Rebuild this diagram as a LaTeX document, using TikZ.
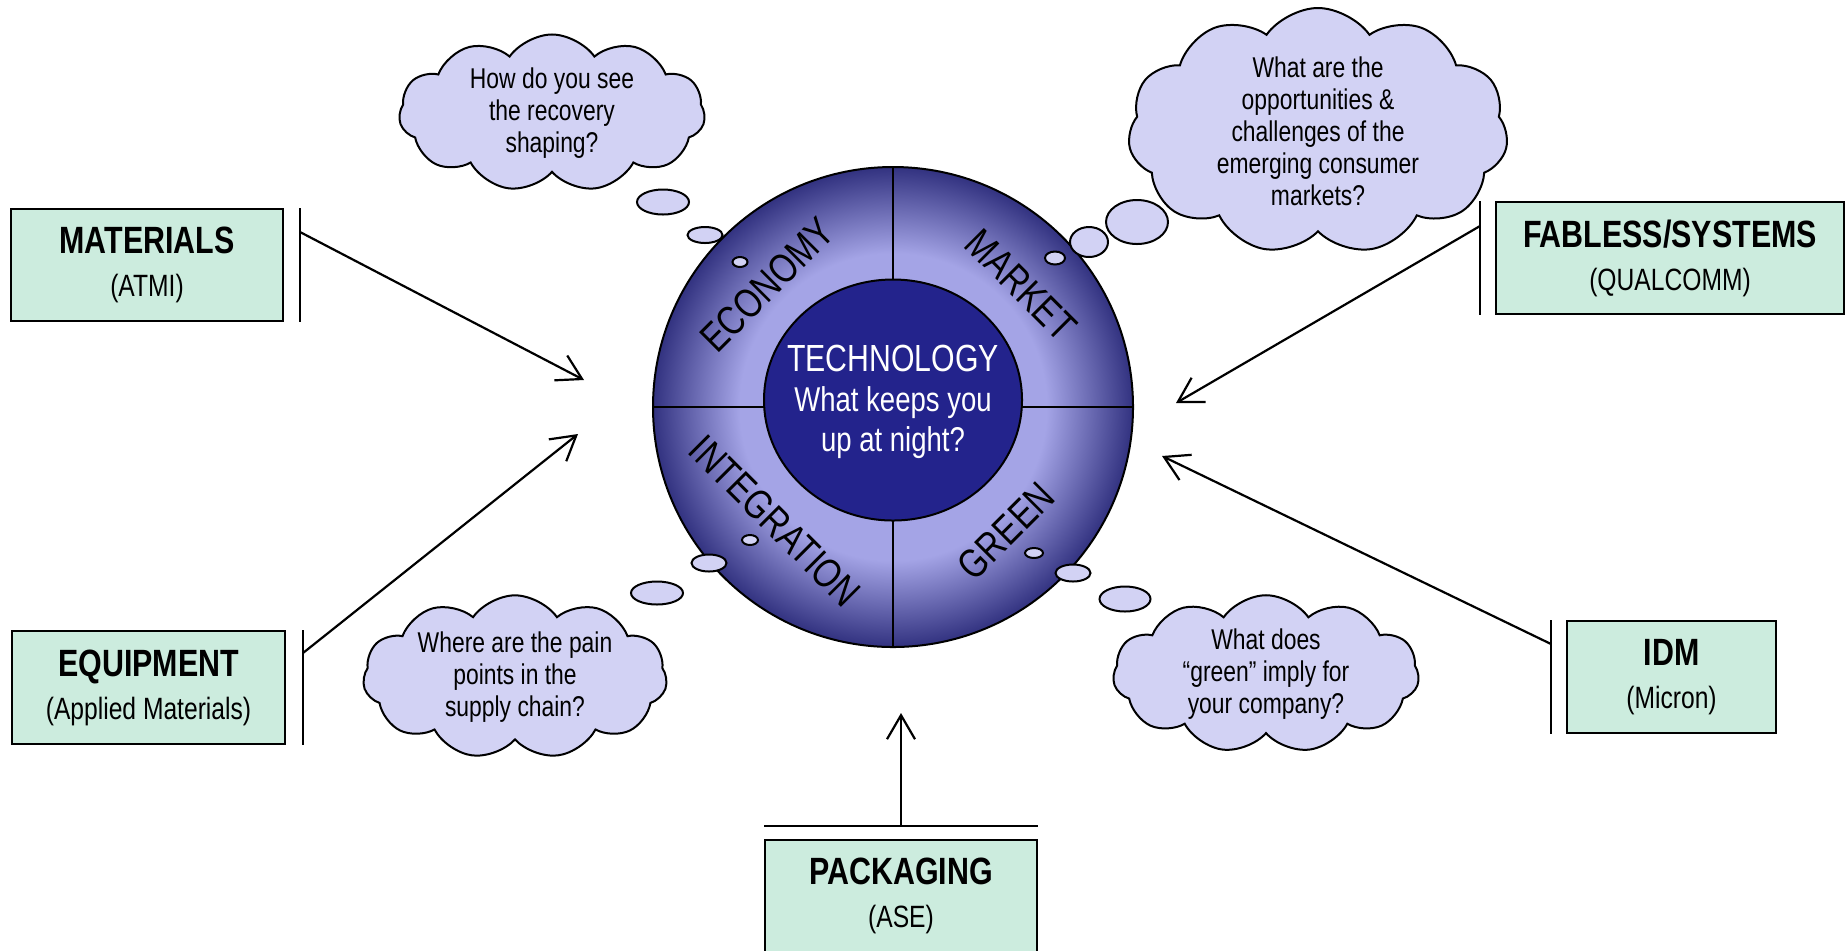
\documentclass[tikz,border=0pt]{standalone}
\usepackage{fontspec}
\setmainfont{Liberation Sans}[FakeStretch=0.8]
\usetikzlibrary{arrows.meta,shapes.symbols,shapes.geometric,positioning}

\definecolor{boxmint}{RGB}{204,236,222}
\definecolor{puff}{RGB}{210,210,244}
\definecolor{ringlight}{RGB}{164,164,230}
\definecolor{ringdark}{RGB}{50,50,128}
\definecolor{hubnavy}{RGB}{35,35,140}

\pgfdeclareradialshading{ringshade}{\pgfpoint{0bp}{0bp}}{color(0bp)=(ringlight); color(16bp)=(ringlight); color(25bp)=(ringdark); color(50bp)=(ringdark)}

\newcommand\titlefont{\bfseries\fontsize{19}{22.5}\selectfont}

\begin{document}
\begin{tikzpicture}[x=0.5pt, y=-0.5pt,
  every node/.style={font=\fontsize{15.4}{21.5}\selectfont},
  firmbox/.style={draw, line width=1pt, fill=boxmint, align=center, inner sep=0pt},
  thought/.style={cloud, cloud puffs=11, cloud puff arc=110, cloud ignores aspect, draw, line width=1pt, fill=puff, align=center, inner sep=0pt, font=\fontsize{14.3}{16}\selectfont},
  bubble/.style={ellipse, draw, line width=1pt, fill=puff, inner sep=0pt},
  feed/.style={-{Straight Barb[length=12pt,width=14pt]}, line width=1.1pt},
  wedge/.style={font=\fontsize{20.5}{20.5}\selectfont}]
\useasboundingbox (0,0) rectangle (1845,950);

% the wheel
\node[circle, minimum size=240pt, draw, line width=1pt, shade, shading=ringshade] (disk) at (893,407) {};
\draw[line width=1pt] (disk.north) -- (disk.south);
\draw[line width=1pt] (disk.west) -- (disk.east);
\node[ellipse, draw, line width=1pt, fill=hubnavy, inner sep=0pt,
  minimum width=129pt, minimum height=120.5pt] (hub) at (893,400) {};
\node[text=white, align=center, inner sep=0pt, font=\fontsize{17.2}{20}\selectfont] (hubtext) at (893,402)
  {{\fontsize{18.9}{20}\selectfont TECHNOLOGY}\\What keeps you\\up at night?};

\node[wedge, rotate=45] (economy) at (767,285) {ECONOMY};
\node[wedge, rotate=-45] (market) at (1021,285) {MARKET};
\node[wedge, rotate=-45] (integration) at (775,521) {INTEGRATION};
\node[wedge, rotate=45] (green) at (1006,531) {GREEN};

% thought bubbles
\node[bubble, minimum width=26pt, minimum height=12.5pt] (rec1) at (663,202) {};
\node[bubble, minimum width=17.5pt, minimum height=8pt] (rec2) at (705,235) {};
\node[bubble, minimum width=7.5pt, minimum height=5pt] (rec3) at (740,262) {};
\node[bubble, minimum width=31pt, minimum height=22pt] (con1) at (1137,222) {};
\node[bubble, minimum width=19pt, minimum height=15pt] (con2) at (1089,242) {};
\node[bubble, minimum width=10pt, minimum height=6.5pt] (con3) at (1055,258) {};
\node[bubble, minimum width=26pt, minimum height=11.5pt] (pain1) at (657,593) {};
\node[bubble, minimum width=17.5pt, minimum height=8.5pt] (pain2) at (709,563) {};
\node[bubble, minimum width=8pt, minimum height=5pt] (pain3) at (750,540) {};
\node[bubble, minimum width=25.5pt, minimum height=12.5pt] (grn1) at (1125,599) {};
\node[bubble, minimum width=17.5pt, minimum height=8.5pt] (grn2) at (1073,573) {};
\node[bubble, minimum width=9pt, minimum height=5pt] (grn3) at (1034,553) {};

\node[thought, minimum width=153pt, minimum height=75pt] (recovery) at (552,113) {How do you see\\the recovery\\shaping?};
\node[thought, minimum width=190pt, minimum height=123pt] (consumer) at (1318,131) {What are the\\opportunities \&\\challenges of the\\emerging consumer\\markets?};
\node[thought, minimum width=152pt, minimum height=74pt] (painpoints) at (515,677) {Where are the pain\\points in the\\supply chain?};
\node[thought, minimum width=153pt, minimum height=73pt] (greenq) at (1266,674) {What does\\``green'' imply for\\your company?};

% segments
\node[firmbox, minimum width=136pt, minimum height=56pt] (materials) at (147,265) {{\titlefont MATERIALS}\\(ATMI)};
\node[firmbox, minimum width=136.5pt, minimum height=56.5pt] (equipment) at (148.5,687.5) {{\titlefont EQUIPMENT}\\(Applied Materials)};
\node[firmbox, minimum width=174pt, minimum height=56pt] (fabless) at (1670,258) {{\titlefont FABLESS/SYSTEMS}\\(QUALCOMM)};
\node[firmbox, minimum width=104.5pt, minimum height=56pt] (idm) at (1671.5,677) {{\titlefont IDM}\\(Micron)};
\node[firmbox, minimum width=136pt, minimum height=56pt] (packaging) at (901,896) {{\titlefont PACKAGING}\\(ASE)};

\draw[line width=1pt] ([xshift=8pt]materials.north east) -- ([xshift=8pt]materials.south east);
\draw[line width=1pt] ([xshift=8.5pt]equipment.north east) -- ([xshift=8.5pt]equipment.south east);
\draw[line width=1pt] ([xshift=-7.5pt]fabless.north west) -- ([xshift=-7.5pt]fabless.south west);
\draw[line width=1pt] ([xshift=-7.5pt]idm.north west) -- ([xshift=-7.5pt]idm.south west);
\draw[line width=1pt] ([yshift=6.5pt]packaging.north west) -- ([yshift=6.5pt]packaging.north east);

\coordinate (mattip) at (584,380);
\coordinate (eqtip) at (578,434);
\coordinate (fabtip) at (1176,403);
\coordinate (idmtip) at (1162,456);
\coordinate (pkgtip) at (901,713);

\draw[feed] ([xshift=8pt,yshift=-12pt]materials.north east) -- (mattip);
\draw[feed] ([xshift=8.5pt,yshift=-11.5pt]equipment.north east) -- (eqtip);
\draw[feed] ([xshift=-7.5pt,yshift=-12.5pt]fabless.north west) -- (fabtip);
\draw[feed] ([xshift=-7.5pt,yshift=-12pt]idm.north west) -- (idmtip);
\draw[feed] ([yshift=6.5pt]packaging.north) -- (pkgtip);
\end{tikzpicture}
\end{document}
